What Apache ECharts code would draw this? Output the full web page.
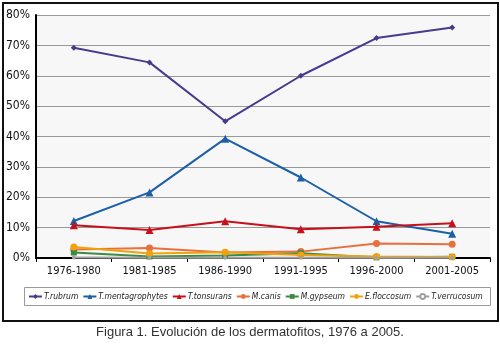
<!DOCTYPE html>
<html>
<head>
<meta charset="utf-8">
<script src="https://cdn.jsdelivr.net/npm/echarts@6/dist/echarts.min.js"></script>
<style>
  html, body { margin: 0; padding: 0; background: #fff; }
  #chart { width: 500px; height: 344px; }
</style>
</head>
<body>
<div id="chart"></div>
<script>
// periodos
let periods = ['1976-1980', '1981-1985', '1986-1990', '1991-1995', '1996-2000', '2001-2005'];

// porcentaje por especie
let rubrum = [69.2, 64.4, 45.0, 60.0, 72.4, 75.9];
let mentagrophytes = [12.2, 21.6, 39.3, 26.5, 12.1, 8.0];
let tonsurans = [10.8, 9.2, 12.1, 9.5, 10.3, 11.4];
let canis = [2.8, 3.3, 1.8, 2.1, 4.8, 4.5];
let gypseum = [1.8, 0.5, 0.8, 1.6, 0.2, 0.4];
let floccosum = [3.6, 1.5, 1.9, 1.0, 0.5, 0.3];
let verrucosum = [0.2, 0.1, 0.1, 0.1, 0.1, 0.1];

let yTicks = [0, 10, 20, 30, 40, 50, 60, 70, 80];

let chart = echarts.init(document.getElementById('chart'));

let condensed = '"DejaVu Sans Condensed", "Liberation Sans Narrow", Roboto, sans-serif';

function mkSeries(name, data, color, symbol, size) {
  return {
    name: name,
    type: 'line',
    data: data,
    symbol: symbol,
    symbolSize: size,
    lineStyle: { color: color, width: 2 },
    itemStyle: { color: color },
    z: 3
  };
}

let option = {
  animation: false,
  backgroundColor: '#fff',
  graphic: [
    {
      type: 'rect',
      left: 2, top: 2,
      shape: { width: 495, height: 318 },
      style: { fill: 'transparent', stroke: '#111', lineWidth: 2 },
      z: 100
    },
    {
      type: 'rect',
      left: 36, top: 15,
      shape: { width: 454, height: 243 },
      style: { fill: '#f7f7f7' },
      z: -10
    },
    {
      type: 'rect',
      left: 24, top: 287,
      shape: { width: 466, height: 18 },
      style: { fill: '#fff', stroke: '#999', lineWidth: 1 },
      z: -5
    },
    {
      type: 'text',
      left: 'center', top: 326,
      style: {
        text: 'Figura 1. Evolución de los dermatofitos, 1976 a 2005.',
        fill: '#333',
        font: '13px "Liberation Sans", Arial, sans-serif'
      }
    }
  ],
  legend: {
    top: 292,
    left: 28,
    width: 800,
    padding: 0,
    itemGap: 4,
    itemWidth: 13,
    itemHeight: 6,
    textStyle: { fontSize: 8.5, fontStyle: 'italic', color: '#222', fontFamily: condensed, padding: [0, 0, 0, -3] },
    data: ['T.rubrum', 'T.mentagrophytes', 'T.tonsurans', 'M.canis', 'M.gypseum', 'E.floccosum', 'T.verrucosum']
  },
  grid: {
    left: 36,
    right: 10,
    top: 15,
    bottom: 86
  },
  xAxis: {
    type: 'category',
    data: periods,
    boundaryGap: true,
    axisLine: { lineStyle: { color: '#000', width: 2 } },
    axisTick: { show: true, length: 4, lineStyle: { color: '#000' } },
    axisLabel: { color: '#111', fontSize: 11, margin: 8, fontFamily: condensed }
  },
  yAxis: {
    type: 'value',
    min: yTicks[0],
    max: yTicks[yTicks.length - 1],
    interval: 10,
    axisLine: { show: true, lineStyle: { color: '#000', width: 2 } },
    axisTick: { show: false },
    axisLabel: { color: '#111', fontSize: 12, margin: 6, fontFamily: condensed, formatter: '{value}%' },
    splitLine: { lineStyle: { color: '#999', width: 1 } }
  },
  series: [
    mkSeries('T.rubrum', rubrum, '#463c8a', 'diamond', 6),
    mkSeries('T.mentagrophytes', mentagrophytes, '#1c5fa8', 'triangle', 8),
    mkSeries('T.tonsurans', tonsurans, '#c8101a', 'triangle', 8),
    mkSeries('M.canis', canis, '#e8703c', 'circle', 7),
    mkSeries('M.gypseum', gypseum, '#3d8a45', 'rect', 6),
    mkSeries('E.floccosum', floccosum, '#f0a30e', 'circle', 7),
    mkSeries('T.verrucosum', verrucosum, '#a0a0a0', 'emptyCircle', 2)
  ]
};

chart.setOption(option);
</script>
</body>
</html>
